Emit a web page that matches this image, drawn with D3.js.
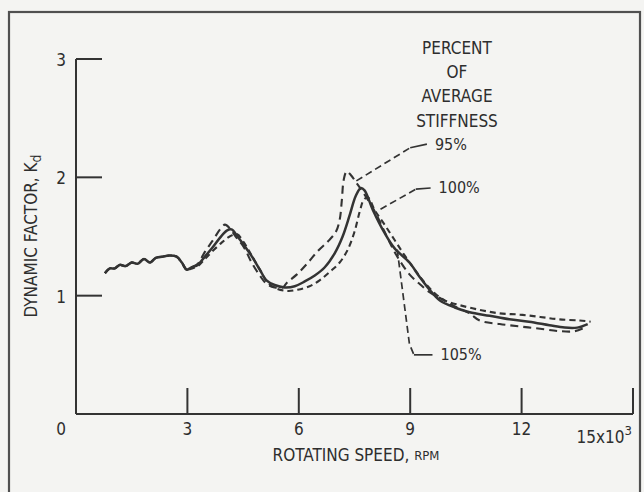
<!DOCTYPE html>
<html>
<head>
<meta charset="utf-8">
<script src="https://cdn.jsdelivr.net/npm/d3@7"></script>
<style>
  html, body { margin: 0; padding: 0; background: #f4f4f2; }
  svg { display: block; }
  text { font-family: "Liberation Sans Narrow", "DejaVu Sans Condensed", "Liberation Sans", sans-serif; fill: #2e2e2e; }
</style>
</head>
<body>
<div id="chart"></div>
<script>
// rotating speed in thousands of rpm, dynamic factor Kd
const xTicks = [3, 6, 9, 12];
const yTicks = [1, 2, 3];

const rpm100 = [0.78, 0.91, 1.04, 1.18, 1.34, 1.50, 1.66, 1.83, 1.99, 2.15, 2.34, 2.52, 2.71, 2.85, 2.98, 3.12, 3.28, 3.47,
  3.66, 3.88, 4.06, 4.19, 4.35, 4.54, 4.76, 4.95, 5.13, 5.35, 5.62, 5.89, 6.16, 6.43, 6.70, 6.97, 7.18, 7.37, 7.53, 7.67,
  7.77, 8.0, 8.31, 8.58, 8.98, 9.25, 9.52, 9.80, 10.2, 10.6, 11.14, 11.67, 12.2, 12.75, 13.16, 13.5, 13.78];
const kd100 = [1.19, 1.23, 1.23, 1.26, 1.25, 1.28, 1.27, 1.31, 1.28, 1.32, 1.33, 1.34, 1.33, 1.28, 1.22, 1.24, 1.26, 1.33,
  1.40, 1.49, 1.55, 1.56, 1.50, 1.42, 1.32, 1.22, 1.13, 1.09, 1.07, 1.08, 1.12, 1.17, 1.24, 1.36, 1.50, 1.68, 1.84, 1.91,
  1.89, 1.72, 1.53, 1.40, 1.28, 1.16, 1.05, 0.96, 0.90, 0.86, 0.83, 0.80, 0.78, 0.75, 0.73, 0.73, 0.76];

const rpm95 = [0.78, 0.91, 1.04, 1.18, 1.34, 1.50, 1.66, 1.83, 1.99, 2.15, 2.34, 2.52, 2.71, 2.85, 2.98, 3.12, 3.28, 3.47,
  3.69, 3.88, 4.01, 4.14, 4.30, 4.52, 4.73, 4.95, 5.13, 5.35, 5.57, 5.68, 5.95, 6.25, 6.52, 6.79, 7.0, 7.1, 7.16, 7.21,
  7.29, 7.40, 7.56, 7.78, 8.05, 8.31, 8.53, 8.71, 8.98, 9.25, 9.52, 9.80, 10.2, 10.6, 10.87, 11.41, 11.95, 12.5, 13.02,
  13.43, 13.7];
const kd95 = [1.19, 1.23, 1.23, 1.26, 1.25, 1.28, 1.27, 1.31, 1.28, 1.32, 1.33, 1.34, 1.33, 1.28, 1.22, 1.24, 1.27, 1.37,
  1.47, 1.56, 1.60, 1.57, 1.50, 1.41, 1.28, 1.17, 1.10, 1.07, 1.07, 1.11, 1.18, 1.28, 1.38, 1.46, 1.54, 1.64, 1.81, 1.98,
  2.05, 2.02, 1.95, 1.85, 1.71, 1.54, 1.40, 1.30, 1.18, 1.10, 1.03, 0.98, 0.91, 0.85, 0.79, 0.76, 0.74, 0.72, 0.70,
  0.70, 0.73];

const rpm105 = [0.78, 0.91, 1.04, 1.18, 1.34, 1.50, 1.66, 1.83, 1.99, 2.15, 2.34, 2.52, 2.71, 2.85, 2.98, 3.12, 3.28, 3.47,
  3.66, 3.93, 4.14, 4.33, 4.52, 4.73, 4.95, 5.16, 5.40, 5.70, 5.97, 6.29, 6.56, 6.83, 7.1, 7.32, 7.5, 7.64, 7.75, 7.86,
  8.05, 8.31, 8.58, 8.85, 9.12, 9.39, 9.66, 9.93, 10.33, 10.87, 11.41, 11.95, 12.5, 13.02, 13.57, 13.86];
const kd105 = [1.19, 1.23, 1.23, 1.26, 1.25, 1.28, 1.27, 1.31, 1.28, 1.32, 1.33, 1.34, 1.33, 1.28, 1.22, 1.23, 1.25, 1.31,
  1.37, 1.45, 1.50, 1.52, 1.45, 1.34, 1.22, 1.11, 1.06, 1.04, 1.05, 1.08, 1.13, 1.20, 1.28, 1.39, 1.54, 1.71, 1.81, 1.83,
  1.72, 1.60, 1.47, 1.34, 1.22, 1.11, 1.02, 0.96, 0.92, 0.88, 0.85, 0.84, 0.82, 0.80, 0.79, 0.78];

// leader lines: [rpm, kd] of curve end, bend and label end
const leader95 = [[7.55, 1.97], [9.0, 2.25], [9.45, 2.28]];
const leader100 = [[8.2, 1.73], [9.15, 1.9], [9.55, 1.91]];
const leader105 = [[8.65, 1.39], [8.98, 0.59], [9.1, 0.5], [9.6, 0.5]];
const legendTitle = ["PERCENT", "OF", "AVERAGE", "STIFFNESS"];

const W = 644, H = 492;
const svg = d3.select('#chart').append('svg').attr('width', W).attr('height', H);

svg.append('rect').attr('x', 0).attr('y', 0).attr('width', W).attr('height', H).attr('fill', '#f4f4f2');
// frame round the figure
svg.append('rect').attr('x', 9).attr('y', 12).attr('width', 631).attr('height', 520)
  .attr('fill', 'none').attr('stroke', '#505050').attr('stroke-width', 2.2);

const x = d3.scaleLinear().domain([0, 15]).range([76, 633]);
const y = d3.scaleLinear().domain([0, 3]).range([414, 59]);
const ink = '#333';

// axes
svg.append('line').attr('x1', x(0)).attr('x2', x(15)).attr('y1', y(0)).attr('y2', y(0))
  .attr('stroke', ink).attr('stroke-width', 2);
svg.append('line').attr('x1', x(0)).attr('x2', x(0)).attr('y1', y(0)).attr('y2', y(3))
  .attr('stroke', ink).attr('stroke-width', 2);

xTicks.concat([15]).forEach(t => {
  svg.append('line').attr('x1', x(t)).attr('x2', x(t)).attr('y1', y(0)).attr('y2', y(0) - 26)
    .attr('stroke', ink).attr('stroke-width', 2);
});
yTicks.forEach(t => {
  svg.append('line').attr('x1', x(0)).attr('x2', x(0) + 26).attr('y1', y(t)).attr('y2', y(t))
    .attr('stroke', ink).attr('stroke-width', 2);
  svg.append('text').attr('x', 61).attr('y', y(t) + 1).attr('text-anchor', 'middle')
    .attr('dominant-baseline', 'central').attr('font-size', 17).text(t);
});

svg.append('text').attr('x', 61).attr('y', 429).attr('text-anchor', 'middle')
  .attr('dominant-baseline', 'central').attr('font-size', 17).text('0');
xTicks.forEach(t => {
  svg.append('text').attr('x', x(t)).attr('y', 429).attr('text-anchor', 'middle')
    .attr('dominant-baseline', 'central').attr('font-size', 17).text(t);
});
const t15 = svg.append('text').attr('x', x(15) - 1).attr('y', 437).attr('text-anchor', 'end')
  .attr('dominant-baseline', 'central').attr('font-size', 17);
t15.append('tspan').text('15x10');
t15.append('tspan').attr('dy', -7).attr('font-size', 13).text('3');

// axis titles
const xt = svg.append('text').attr('x', 356).attr('y', 455).attr('text-anchor', 'middle')
  .attr('dominant-baseline', 'central').attr('font-size', 17);
xt.append('tspan').text('ROTATING SPEED, ');
xt.append('tspan').attr('font-size', 13).text('RPM');

const yt = svg.append('text').attr('transform', 'translate(31,236) rotate(-90)').attr('text-anchor', 'middle')
  .attr('dominant-baseline', 'central').attr('font-size', 17);
yt.append('tspan').text('DYNAMIC FACTOR, K');
yt.append('tspan').attr('dy', 5).attr('font-size', 14).text('d');

// curves
const line = d3.line().x(d => x(d[0])).y(d => y(d[1])).curve(d3.curveCatmullRom.alpha(0.5));
const series = [
  { r: rpm95, k: kd95, dash: '8,5', w: 2.1 },
  { r: rpm105, k: kd105, dash: '6,4', w: 2.1 },
  { r: rpm100, k: kd100, dash: null, w: 2.5 }
];
series.forEach(s => {
  svg.append('path').datum(d3.zip(s.r, s.k)).attr('d', line)
    .attr('fill', 'none').attr('stroke', ink).attr('stroke-width', s.w)
    .attr('stroke-dasharray', s.dash).attr('stroke-linejoin', 'round');
});

// leader lines: dashed part then short solid piece at the label
function leader(pts) {
  const p = pts.map(d => [x(d[0]), y(d[1])]);
  const n = p.length;
  svg.append('path').attr('d', d3.line()(p.slice(0, n - 1)))
    .attr('fill', 'none').attr('stroke', ink).attr('stroke-width', 1.7).attr('stroke-dasharray', '7,4');
  svg.append('path').attr('d', d3.line()(p.slice(n - 2)))
    .attr('fill', 'none').attr('stroke', ink).attr('stroke-width', 1.7);
}
leader(leader95);
leader(leader100);
leader(leader105);

// legend text
legendTitle.forEach((s, i) => {
  svg.append('text').attr('x', 457).attr('y', 48 + i * 24.2).attr('text-anchor', 'middle')
    .attr('dominant-baseline', 'central').attr('font-size', 17).text(s);
});
const lab = [['95%', leader95], ['100%', leader100], ['105%', leader105]];
lab.forEach(([s, pts]) => {
  const e = pts[pts.length - 1];
  svg.append('text').attr('x', x(e[0]) + 8).attr('y', y(e[1])).attr('dominant-baseline', 'central')
    .attr('font-size', 16).text(s);
});
</script>
</body>
</html>
